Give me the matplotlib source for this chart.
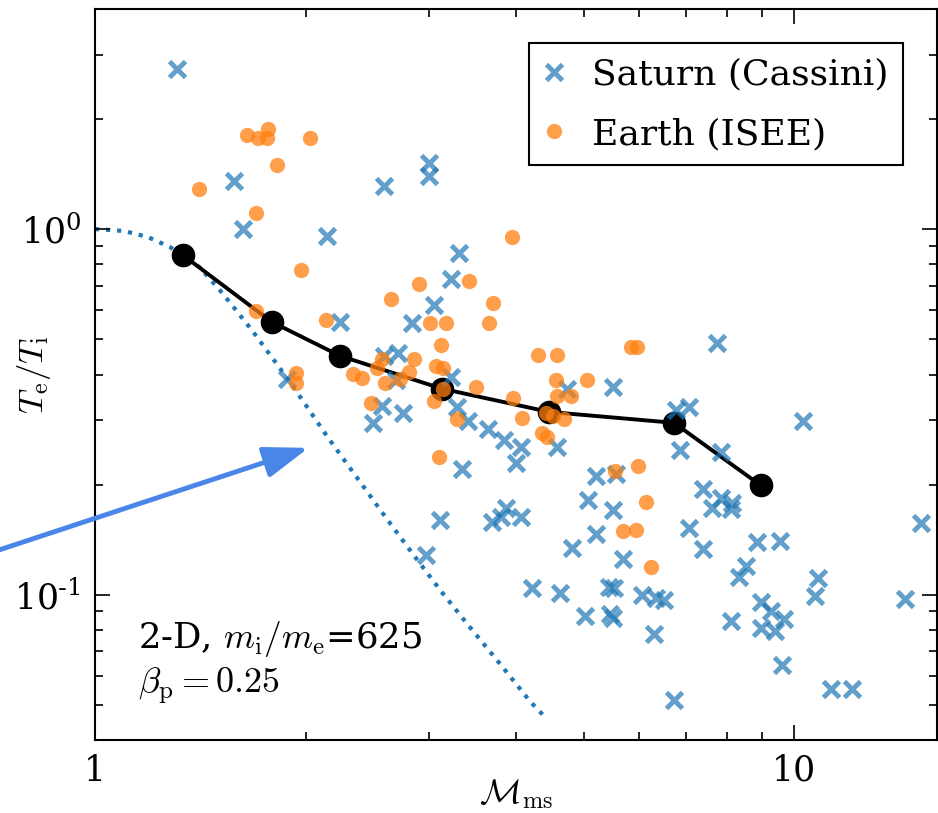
import numpy as np
import matplotlib
matplotlib.use('Agg')
import matplotlib.pyplot as plt
from matplotlib.ticker import NullFormatter

plt.rcParams['font.family'] = 'DejaVu Serif'
plt.rcParams['mathtext.fontset'] = 'cm'
plt.rcParams['axes.unicode_minus'] = False

# Saturn (Cassini) bow shock crossings: Mach number, Te/Ti
saturn_mach = [1.31, 1.58, 1.63, 2.15, 2.59, 3.00, 3.00, 3.31, 3.23, 3.05,
               2.24, 2.84, 2.59, 2.71, 2.69, 1.88, 2.50, 2.57, 2.76, 3.23,
               3.29, 3.41, 3.65, 3.84, 4.07, 4.00, 4.58, 4.73, 5.50, 3.35,
               3.11, 3.69, 3.81, 3.87, 4.07, 2.97, 5.07, 5.50, 5.21, 5.56,
               5.21, 4.81, 4.22, 4.62, 5.02, 5.43, 5.52, 5.45, 5.50, 5.69,
               6.05, 6.34, 6.51, 6.30, 6.73, 6.77, 7.07, 7.75, 10.3, 6.86,
               7.85, 7.40, 7.62, 7.85, 8.14, 8.11, 7.07, 7.40, 8.84, 9.53,
               8.52, 8.33, 8.11, 8.95, 9.25, 9.65, 8.95, 9.37, 9.59, 10.8,
               10.7, 11.3, 12.1, 14.4, 15.2]
saturn_ratio = [2.74, 1.35, 1.00, 0.957, 1.31, 1.52, 1.40, 0.86, 0.73, 0.62,
                0.557, 0.553, 0.45, 0.458, 0.387, 0.389, 0.295, 0.328, 0.314, 0.394,
                0.326, 0.299, 0.284, 0.265, 0.254, 0.229, 0.254, 0.366, 0.370, 0.220,
                0.160, 0.158, 0.163, 0.173, 0.163, 0.128, 0.181, 0.170, 0.211, 0.214,
                0.146, 0.134, 0.1045, 0.101, 0.0871, 0.105, 0.104, 0.0887, 0.0865, 0.125,
                0.100, 0.098, 0.0969, 0.0778, 0.0513, 0.320, 0.326, 0.488, 0.299, 0.249,
                0.246, 0.194, 0.172, 0.184, 0.178, 0.171, 0.152, 0.133, 0.139, 0.140,
                0.120, 0.112, 0.0849, 0.0957, 0.0899, 0.0855, 0.0812, 0.0797, 0.0640, 0.111,
                0.0994, 0.0550, 0.0553, 0.0975, 0.157]

# Earth (ISEE) bow shock crossings
earth_mach = [1.65, 1.71, 1.77, 1.76, 2.03, 1.82, 1.41, 1.70, 1.97, 1.70,
              2.14, 1.94, 1.94, 2.34, 2.41, 2.48, 2.53, 2.60, 2.57, 2.65,
              2.91, 3.43, 3.95, 3.71, 3.66, 3.01, 3.18, 3.12, 2.86, 2.81,
              2.73, 3.07, 3.15, 3.15, 3.05, 3.51, 3.29, 3.10, 4.30, 4.58,
              4.56, 4.58, 4.80, 5.05, 3.96, 4.08, 4.42, 4.52, 4.69, 4.36,
              4.43, 5.84, 5.96, 5.54, 5.98, 6.13, 5.69, 5.94, 6.24]
earth_ratio = [1.81, 1.78, 1.88, 1.78, 1.77, 1.50, 1.29, 1.11, 0.773, 0.597,
               0.564, 0.404, 0.380, 0.402, 0.392, 0.335, 0.417, 0.380, 0.441, 0.644,
               0.708, 0.721, 0.951, 0.628, 0.554, 0.554, 0.554, 0.482, 0.441, 0.407,
               0.389, 0.422, 0.417, 0.366, 0.339, 0.370, 0.303, 0.238, 0.453, 0.453,
               0.387, 0.350, 0.350, 0.387, 0.345, 0.305, 0.314, 0.308, 0.303, 0.277,
               0.269, 0.476, 0.476, 0.218, 0.225, 0.1795, 0.149, 0.150, 0.119]

# 2-D simulation runs
sim_mach = [1.335, 1.79, 2.24, 3.13, 4.46, 6.73, 8.95]
sim_ratio = [0.849, 0.557, 0.450, 0.366, 0.316, 0.295, 0.199]

# dotted reference curve
curve_mach = [1.0, 1.10, 1.19, 1.28, 1.41, 1.52, 1.68, 1.84, 1.97, 2.15,
              2.36, 2.59, 2.84, 3.12, 3.44, 3.80, 4.19, 4.42]
curve_ratio = [1.0, 0.988, 0.951, 0.893, 0.787, 0.669, 0.526, 0.415, 0.345, 0.270,
               0.211, 0.165, 0.130, 0.1025, 0.0812, 0.0644, 0.0510, 0.0458]

# axis ticks
x_ticks = [1, 10]
x_ticklabels = ['1', '10']
y_ticks = [0.1, 1]
y_ticklabels = [r'$\mathdefault{10^{\text{-}1}}$', r'$\mathdefault{10^{0}}$']

fig = plt.figure(figsize=(9.38, 8.13), dpi=100)
ax = fig.add_axes([0.1013, 0.0898, 0.8977, 0.8991])

ax.plot(curve_mach, curve_ratio, ':', color='#1f77b4', lw=3, zorder=1)
ax.plot(sim_mach, sim_ratio, '-o', color='black', lw=2.8, ms=16, zorder=2)
ax.plot(saturn_mach, saturn_ratio, 'x', color='#1f77b4', alpha=0.7,
        ms=12, mew=3.5, label='Saturn (Cassini)', zorder=3)
ax.plot(earth_mach, earth_ratio, 'o', color='#ff7f0e', alpha=0.75,
        ms=11, mew=0, label='Earth (ISEE)', zorder=3)

ax.set_xscale('log')
ax.set_yscale('log')
ax.set_xlim(1, 16)
ax.set_ylim(0.04, 4)
ax.set_xticks(x_ticks)
ax.set_xticklabels(x_ticklabels)
ax.set_yticks(y_ticks)
ax.set_yticklabels(y_ticklabels)
ax.xaxis.set_minor_formatter(NullFormatter())
ax.yaxis.set_minor_formatter(NullFormatter())

ax.tick_params(which='both', direction='in', top=True, right=True,
               labelsize=25, width=1.2)
ax.tick_params(which='major', length=11, pad=10)
ax.tick_params(which='minor', length=6)
for sp in ax.spines.values():
    sp.set_linewidth(1.5)

ax.set_xlabel(r'$\mathcal{M}_{\rm ms}$', fontsize=25, labelpad=-8)
ax.set_ylabel(r'$T_{\rm e}/T_{\rm i}$', fontsize=25)
ax.yaxis.set_label_coords(-0.05, 0.5)

ax.text(0.051, 0.126, r'2-D, $m_{\rm i}/m_{\rm e}$=625', transform=ax.transAxes,
        fontsize=25.5, va='baseline')
ax.text(0.051, 0.064, r'$\beta_{\rm p}=0.25$', transform=ax.transAxes,
        fontsize=26, va='baseline')

ax.annotate('', xy=(2.02, 0.252), xytext=(0.708, 0.130),
            arrowprops=dict(arrowstyle='-|>,head_length=0.8,head_width=0.28',
                            color='#4a86e8', lw=3.5, mutation_scale=34,
                            shrinkA=0, shrinkB=0),
            annotation_clip=False)

leg = ax.legend(loc='upper right', fontsize=26, fancybox=False, framealpha=1,
                edgecolor='black', borderaxespad=0.95, handlelength=0.6,
                handletextpad=0.75, labelspacing=0.7)
leg.get_frame().set_linewidth(1.5)

fig.savefig('out.png', dpi=100)
